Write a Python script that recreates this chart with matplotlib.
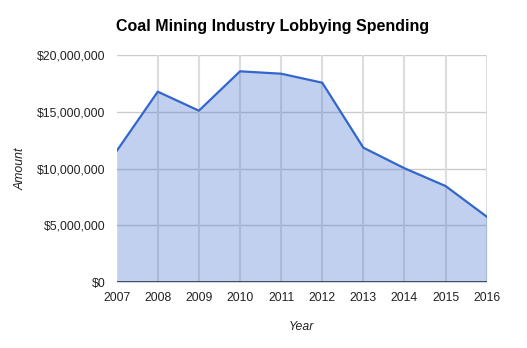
import matplotlib
matplotlib.use("Agg")
import matplotlib.pyplot as plt
from matplotlib.ticker import FuncFormatter

years = [2007, 2008, 2009, 2010, 2011, 2012, 2013, 2014, 2015, 2016]
amounts = [11.54e6, 16.75e6, 15.08e6, 18.54e6, 18.33e6, 17.54e6,
           11.83e6, 10.02e6, 8.46e6, 5.77e6]
y_ticks = [0, 5e6, 10e6, 15e6, 20e6]

plt.rcParams['font.family'] = ['Liberation Sans', 'DejaVu Sans']

fig = plt.figure(figsize=(5.27, 3.48), dpi=100)
ax = fig.add_axes([0.2214, 0.1888, 0.7021, 0.654])

# gridlines under the translucent area
for yt in y_ticks[1:]:
    ax.axhline(yt, color="#cccccc", lw=1, zorder=0)
for yr in years[1:]:
    ax.axvline(yr, color="#dddddd", lw=1.5, zorder=0)

ax.fill_between(years, amounts, 0, color="#3366cc", alpha=0.3, lw=0, zorder=1)
ax.plot(years, amounts, color="#3366cc", lw=1.6, zorder=2)
ax.axhline(0, color="#333333", lw=1.2, zorder=3)

ax.set_xlim(years[0], years[-1])
ax.set_ylim(0, 20e6)
ax.set_xticks(years)
ax.set_yticks(y_ticks)
ax.yaxis.set_major_formatter(FuncFormatter(lambda v, p: "${:,.0f}".format(v)))

for sp in ax.spines.values():
    sp.set_visible(False)
ax.tick_params(length=0, labelsize=8.8, colors="#222222")
ax.tick_params(axis="y", pad=8)
ax.tick_params(axis="x", pad=7)

ax.set_ylabel("Amount", fontstyle="italic", fontsize=8.8, color="#222222")
ax.set_xlabel("Year", fontstyle="italic", fontsize=8.8, color="#222222")
ax.yaxis.set_label_coords((21 - 116.7) / 370, 0.5)
ax.xaxis.set_label_coords(0.5, -(327 - 282.3) / 227.6)
ax.xaxis.label.set_va("center")
ax.yaxis.label.set_va("center")

fig.text(116 / 527, 1 - 27 / 348, "Coal Mining Industry Lobbying Spending",
         fontsize=11.5, fontweight="bold", color="#000000", ha="left", va="center")

fig.savefig("out.png", dpi=100)
